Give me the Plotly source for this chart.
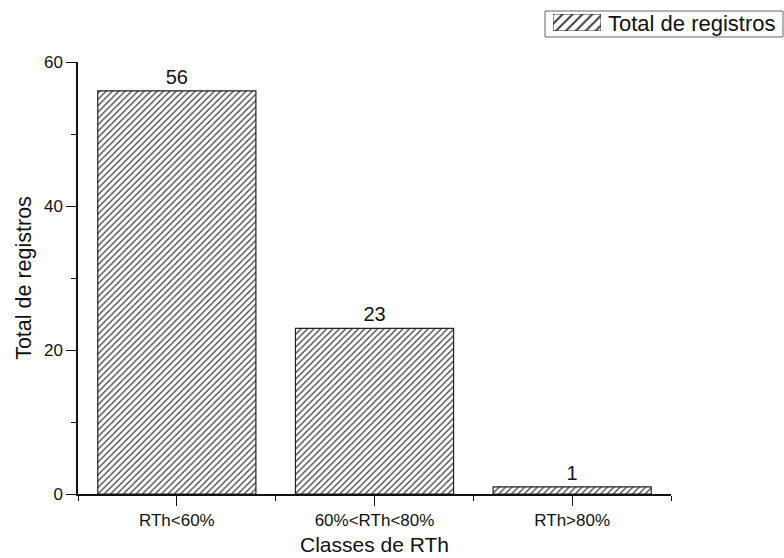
import plotly.graph_objects as go

# Register counts per RTh class
classes = ["RTh<60%", "60%<RTh<80%", "RTh>80%"]
totals = [56, 23, 1]
series_name = "Total de registros"
x_title = "Classes de RTh"
y_ticks = [0, 20, 40, 60]
y_minor = [10, 30, 50]

FONT = "Liberation Sans, Arial, sans-serif"
INK = "#111"

W, H = 784, 558
ML, MB = 78, 64                  # left / bottom margins (px)
PLOT_W, PLOT_H = 593, 432        # plot area size (px)
PAPER_W, PAPER_H = W - ML, H - MB


def px_x(x):
    """Figure pixel x -> paper fraction."""
    return (x - ML) / PAPER_W


def px_y(y):
    """Figure pixel y (from top) -> paper fraction."""
    return (PAPER_H - y) / PAPER_H


def hatch(size):
    return dict(shape="/", fgcolor="#444", bgcolor="white",
                size=size, solidity=0.3, fillmode="replace")


fig = go.Figure()

# main bars
fig.add_trace(go.Bar(
    x=list(range(len(classes))),
    y=totals,
    name=series_name,
    width=0.8,
    text=[str(v) for v in totals],
    textposition="outside",
    textfont=dict(family=FONT, size=20, color=INK),
    cliponaxis=False,
    marker=dict(color="white", line=dict(color="#222", width=1.2),
                pattern=hatch(4.5)),
    showlegend=False,
    xaxis="x", yaxis="y",
))

# legend key: one full-height bar on its own small axes
fig.add_trace(go.Bar(
    x=[0], y=[1], width=1,
    marker=dict(color="white", line=dict(color="#333", width=1),
                pattern=hatch(7)),
    showlegend=False, hoverinfo="skip",
    xaxis="x2", yaxis="y2",
))

fig.update_layout(
    width=W, height=H,
    margin=dict(l=ML, r=0, t=0, b=MB),
    paper_bgcolor="white", plot_bgcolor="white",
    font=dict(family=FONT, size=17, color=INK),
    showlegend=False,
    xaxis=dict(
        domain=[0, PLOT_W / PAPER_W],
        range=[-0.5, 2.5],
        tickmode="array",
        tickvals=list(range(len(classes))),
        ticktext=classes,
        ticks="outside", ticklen=10, tickwidth=1.2, tickcolor=INK,
        minor=dict(tickmode="array", tickvals=[-0.5, 0.5, 1.5, 2.5],
                   ticks="outside", ticklen=5, tickwidth=1.2, tickcolor=INK),
        showline=True, linecolor=INK, linewidth=1.5,
        showgrid=False, zeroline=False, automargin=False,
        tickfont=dict(family=FONT, size=17),
    ),
    yaxis=dict(
        domain=[0, PLOT_H / PAPER_H],
        range=[0, 60],
        tickmode="array",
        tickvals=y_ticks,
        ticks="outside", ticklen=10, tickwidth=1.2, tickcolor=INK,
        minor=dict(tickmode="array", tickvals=y_minor,
                   ticks="outside", ticklen=5, tickwidth=1.2, tickcolor=INK),
        showline=True, linecolor=INK, linewidth=1.5,
        showgrid=False, zeroline=False, automargin=False,
        tickfont=dict(family=FONT, size=17),
        title=dict(text="Total de registros", font=dict(family=FONT, size=21.5), standoff=6),
    ),
    xaxis2=dict(domain=[px_x(553), px_x(601)], range=[-0.5, 0.5],
                visible=False, fixedrange=True, anchor="y2"),
    yaxis2=dict(domain=[px_y(31), px_y(14)], range=[0, 1],
                visible=False, fixedrange=True, anchor="x2"),
    shapes=[dict(
        type="rect", xref="paper", yref="paper",
        x0=px_x(545), x1=px_x(783), y0=px_y(37), y1=px_y(11),
        line=dict(color="#666", width=1), fillcolor="rgba(0,0,0,0)",
        layer="below",
    )],
    annotations=[
        dict(text=series_name, xref="paper", yref="paper",
             x=px_x(606), y=px_y(23.5), xanchor="left", yanchor="middle",
             showarrow=False, font=dict(family=FONT, size=22, color=INK)),
        # x-axis title, centred under the plot area
        dict(text=x_title, xref="x domain", yref="paper",
             x=0.5, y=px_y(544), xanchor="center", yanchor="middle",
             showarrow=False, font=dict(family=FONT, size=21, color=INK)),
    ],
)

fig.write_html("out.html")
